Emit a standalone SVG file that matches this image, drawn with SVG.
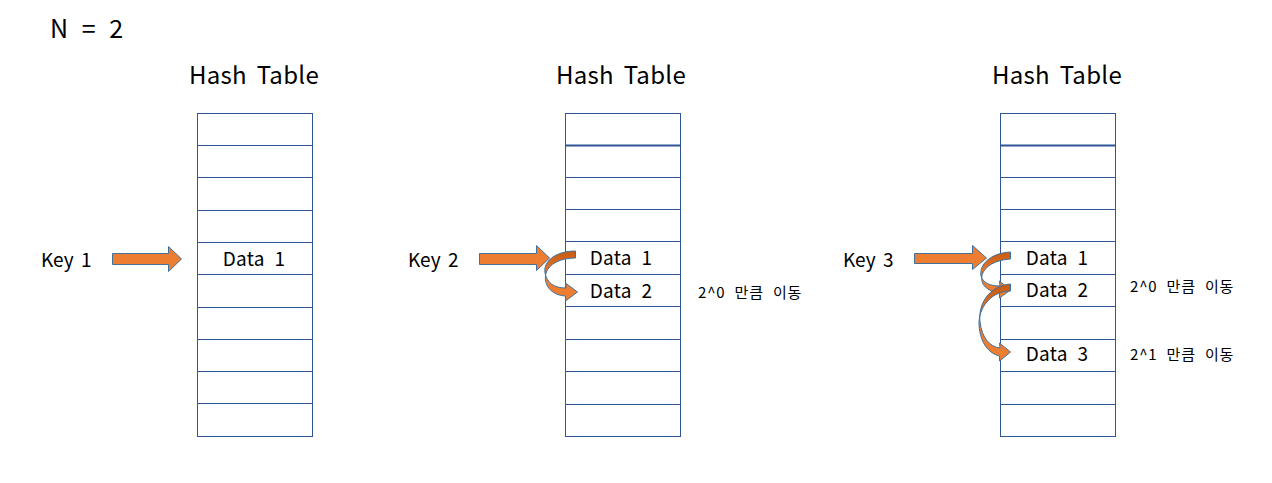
<svg xmlns="http://www.w3.org/2000/svg" width="1272" height="483" viewBox="0 0 1272 483">
<defs>
<style>
.t{font-family:"Noto Sans CJK KR","Noto Sans",sans-serif;fill:#000}
.h{font-size:24px;text-anchor:middle;word-spacing:4px;letter-spacing:0.3px}
.k{font-size:19px;word-spacing:3px}
.d{font-size:19px;text-anchor:middle;word-spacing:5px;letter-spacing:0.3px}
.n{font-size:15px;word-spacing:5px;letter-spacing:0.8px}
.cell{fill:#fff;stroke:#2F5597;stroke-width:1}
.arr{fill:#ED7D31;stroke:#41719C;stroke-width:1}
.carr{fill:url(#cg);stroke:#41719C;stroke-width:1}
</style>
<linearGradient id="cg" x1="0" y1="0" x2="0" y2="1">
<stop offset="0" stop-color="#C55A11"/>
<stop offset="0.5" stop-color="#ED7D31"/>
<stop offset="1" stop-color="#ED7D31"/>
</linearGradient>
</defs>
<rect width="1272" height="483" fill="#fff"/>
<text class="t" x="50" y="38" font-size="25" style="word-spacing:8px">N = 2</text>

<g id="table1">
<text class="t h" x="254" y="84">Hash Table</text>
<rect class="cell" x="197.5" y="113.5" width="115" height="32"/>
<rect class="cell" x="197.5" y="145.5" width="115" height="32"/>
<rect class="cell" x="197.5" y="177.5" width="115" height="33"/>
<rect class="cell" x="197.5" y="210.5" width="115" height="32"/>
<rect class="cell" x="197.5" y="242.5" width="115" height="32"/>
<rect class="cell" x="197.5" y="274.5" width="115" height="33"/>
<rect class="cell" x="197.5" y="307.5" width="115" height="32"/>
<rect class="cell" x="197.5" y="339.5" width="115" height="32"/>
<rect class="cell" x="197.5" y="371.5" width="115" height="32"/>
<rect class="cell" x="197.5" y="403.5" width="115" height="33"/>
<text class="t d" x="254" y="266">Data 1</text>
</g>
<g id="key1"><text class="t k" x="41" y="267">Key 1</text></g>

<g id="table2">
<text class="t h" x="621" y="84">Hash Table</text>
<rect class="cell" x="565.5" y="113.5" width="115" height="32"/>
<rect class="cell" x="565.5" y="145.5" width="115" height="32"/>
<rect class="cell" x="565.5" y="177.5" width="115" height="32"/>
<rect class="cell" x="565.5" y="209.5" width="115" height="32"/>
<rect class="cell" x="565.5" y="241.5" width="115" height="33"/>
<rect class="cell" x="565.5" y="274.5" width="115" height="32"/>
<rect class="cell" x="565.5" y="306.5" width="115" height="33"/>
<rect class="cell" x="565.5" y="339.5" width="115" height="32"/>
<rect class="cell" x="565.5" y="371.5" width="115" height="33"/>
<rect class="cell" x="565.5" y="404.5" width="115" height="32"/>
<line x1="565" y1="145.5" x2="681" y2="145.5" stroke="#2F5597" stroke-width="2"/>
<text class="t d" x="621" y="265">Data 1</text>
<text class="t d" x="621" y="298">Data 2</text>
<text class="t n" x="698" y="298">2^0 만큼 이동</text>
</g>
<g id="key2"><text class="t k" x="408" y="267">Key 2</text></g>

<g id="table3">
<text class="t h" x="1057" y="84">Hash Table</text>
<rect class="cell" x="1000.5" y="113.5" width="115" height="32"/>
<rect class="cell" x="1000.5" y="145.5" width="115" height="32"/>
<rect class="cell" x="1000.5" y="177.5" width="115" height="32"/>
<rect class="cell" x="1000.5" y="209.5" width="115" height="32"/>
<rect class="cell" x="1000.5" y="241.5" width="115" height="33"/>
<rect class="cell" x="1000.5" y="274.5" width="115" height="32"/>
<rect class="cell" x="1000.5" y="306.5" width="115" height="33"/>
<rect class="cell" x="1000.5" y="339.5" width="115" height="32"/>
<rect class="cell" x="1000.5" y="371.5" width="115" height="33"/>
<rect class="cell" x="1000.5" y="404.5" width="115" height="32"/>
<line x1="1000" y1="145.5" x2="1116" y2="145.5" stroke="#2F5597" stroke-width="2"/>
<text class="t d" x="1057" y="265">Data 1</text>
<text class="t d" x="1057" y="297">Data 2</text>
<text class="t d" x="1057" y="361">Data 3</text>
<text class="t n" x="1130" y="292">2^0 만큼 이동</text>
<text class="t n" x="1130" y="360">2^1 만큼 이동</text>
</g>
<g id="key3"><text class="t k" x="843" y="267">Key 3</text></g>

<g id="connectors">
<path class="arr" d="M112.5,253.5 H168.5 V246.5 L181.5,259 L168.5,271.5 V264.5 H112.5 Z"/>
<path class="arr" d="M479.5,253.5 H536.5 V245.5 L549.5,258 L536.5,270.5 V264.5 H479.5 Z"/>
<path class="arr" d="M914.5,253.5 H972.5 V245.5 L986.5,258 L972.5,269.5 V263.5 H914.5 Z"/>
<path class="carr" d="M575.5,251 C556,251 543,261 545,273 C547,283 554,288 566,288 L565.5,283 L577.5,292 L565.5,301 L565.5,296 C551,295 543,285 546,273 C549,264 560,258 575.5,258 Z"/>
<path class="carr" d="M1010.5,252 C990,253 979,265 981,276 C983,283 990,286 1000,286 L999.5,281 L1010.5,290 L999.5,298 L999.5,293 C987,291 980,285 982,275 C985,266 995,260 1010.5,259 Z"/>
<path class="carr" d="M1010.5,284 C988,286 978,305 980,322 C982,338 990,347 1000,348 L999.5,343 L1010.5,352 L999.5,361 L999.5,356 C987,353 979,340 979,322 C980,305 993,291 1010.5,291 Z"/>
</g>
</svg>
